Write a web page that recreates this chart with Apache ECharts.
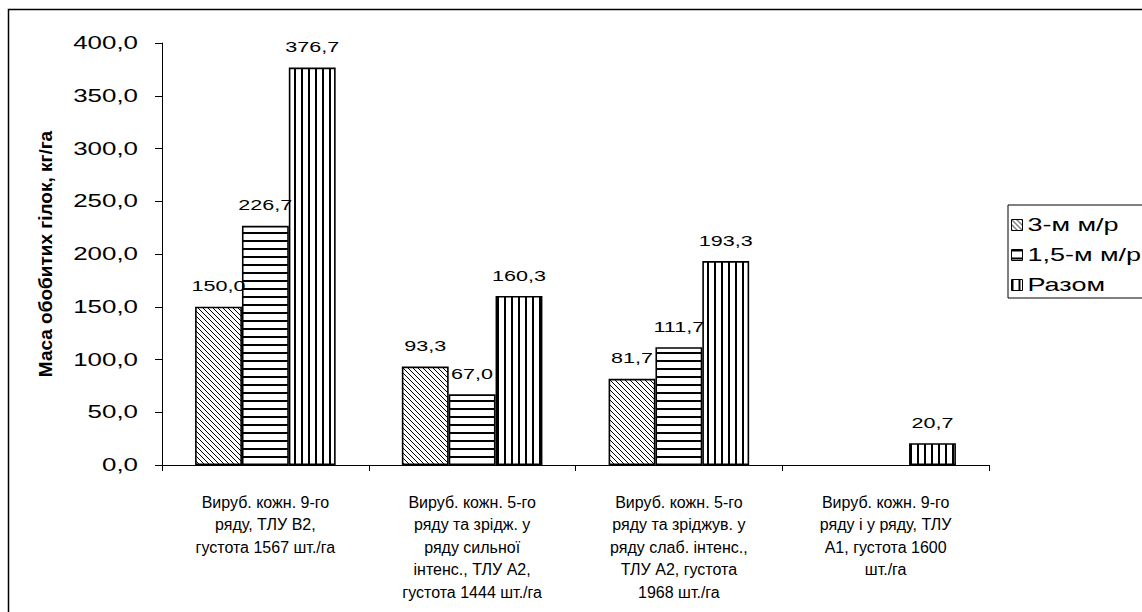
<!DOCTYPE html>
<html>
<head>
<meta charset="utf-8">
<script src="https://cdn.jsdelivr.net/npm/echarts@6/dist/echarts.min.js"></script>
<style>
html,body{margin:0;padding:0;background:#fff;}
#c{width:1142px;height:612px;}
</style>
</head>
<body>
<div id="c"></div>
<script>
var categories = [
  "Вируб. кожн. 9-го\nряду, ТЛУ В2,\nгустота 1567 шт./га",
  "Вируб. кожн. 5-го\nряду та зрідж. у\nряду сильної\nінтенс., ТЛУ А2,\nгустота 1444 шт./га",
  "Вируб. кожн. 5-го\nряду та зріджув. у\nряду слаб. інтенс.,\nТЛУ А2, густота\n1968 шт./га",
  "Вируб. кожн. 9-го\nряду і у ряду, ТЛУ\nА1, густота 1600\nшт./га"
];
var seriesNames = ["3-м м/р", "1,5-м м/р", "Разом"];
var s3m = [150.0, 93.3, 81.7, null];
var s15m = [226.7, 67.0, 111.7, null];
var sTotal = [376.7, 160.3, 193.3, 20.7];
var yTicks = [0, 50, 100, 150, 200, 250, 300, 350, 400];
var yAxisTitle = "Маса обобитих гілок, кг/га";

function fmt(v){ return Number(v).toFixed(1).replace('.', ','); }

function makePattern(kind){
  var c = document.createElement('canvas');
  var s = kind === 'diag' ? 5 : (kind === 'h' ? 8 : 7);
  c.width = s; c.height = s;
  var g = c.getContext('2d');
  g.fillStyle = '#fff'; g.fillRect(0,0,s,s);
  g.strokeStyle = '#000';
  if (kind === 'diag') {
    g.lineWidth = 1;
    for (var k = -1; k <= 1; k++) {
      g.beginPath(); g.moveTo(k*s, 0); g.lineTo(k*s + s, s); g.stroke();
    }
  } else if (kind === 'h') {
    g.fillStyle = '#000'; g.fillRect(0, 0, s, 2);
  } else {
    g.fillStyle = '#000'; g.fillRect(0, 0, 2, s);
  }
  return {image: c, repeat: 'repeat'};
}
var patterns = [makePattern('diag'), makePattern('h'), makePattern('v')];
var dataSets = [s3m, s15m, sTotal];

var font = '"Liberation Sans", Arial, sans-serif';

var series = dataSets.map(function(d, i){
  return {
    name: seriesNames[i],
    type: 'bar',
    data: d,
    barGap: '0%',
    barCategoryGap: '32%',
    itemStyle: {color: patterns[i], borderColor: '#000', borderWidth: 1.6},
    label: {
      show: true, position: 'top', distance: 13,
      fontFamily: font, fontSize: 14, color: '#000',
      formatter: function(p){ return p.value == null ? '' : fmt(p.value); }
    },
    emphasis: {disabled: true}
  };
});

var chart = echarts.init(document.getElementById('c'), null, {renderer: 'svg'});
chart.setOption({
  animation: false,
  backgroundColor: '#fff',
  grid: {left: 162, right: 153, top: 43, bottom: 147, containLabel: false},
  legend: {
    orient: 'vertical',
    left: 1008, top: 205,
    padding: [11, 42, 4, 3],
    itemGap: 12,
    itemWidth: 11, itemHeight: 11,
    borderColor: '#000', borderWidth: 1,
    selectedMode: false,
    textStyle: {fontFamily: font, fontSize: 18, color: '#000'},
    data: seriesNames.map(function(n, i){
      return {name: n, icon: 'rect', itemStyle: {color: patterns[i], borderColor: '#000', borderWidth: 1}};
    })
  },
  xAxis: {
    type: 'category',
    data: categories,
    axisLine: {lineStyle: {color: '#000', width: 1}},
    axisTick: {show: true, alignWithLabel: false, length: 6, lineStyle: {color: '#000'}},
    axisLabel: {
      interval: 0, margin: 26,
      fontFamily: font, fontSize: 16, color: '#000', lineHeight: 22.5, align: 'center'
    },
    splitLine: {show: false}
  },
  yAxis: {
    type: 'value',
    min: 0, max: 400, interval: 50,
    name: yAxisTitle,
    nameLocation: 'middle',
    nameGap: 107,
    nameTextStyle: {fontFamily: font, fontSize: 19, fontWeight: 'bold', color: '#000'},
    axisLine: {show: true, lineStyle: {color: '#000', width: 1}},
    axisTick: {show: true, length: 7, inside: false, lineStyle: {color: '#000'}},
    axisLabel: {
      margin: 24, fontFamily: font, fontSize: 18, color: '#000',
      formatter: function(v){ return yTicks.indexOf(v) >= 0 ? fmt(v) : ''; }
    },
    splitLine: {show: false}
  },
  graphic: [{
    type: 'rect', silent: true, z: -1,
    shape: {x: 8.5, y: 9.5, width: 1140, height: 620},
    style: {fill: null, stroke: '#000', lineWidth: 1.5}
  }],
  series: series
});

// Widen glyphs of texts that appear horizontally stretched in the reference
function stretchTexts(){
  var svg = document.querySelector('#c svg');
  if (!svg) return;
  var sr = svg.getBoundingClientRect();
  var texts = Array.prototype.slice.call(svg.querySelectorAll('text'));
  texts.forEach(function(t){
    if (t.parentNode && t.parentNode.getAttribute && t.parentNode.getAttribute('data-stretched')) return;
    var st = (t.getAttribute('style') || '') + ' ' + (t.getAttribute('font-size') || '');
    var txt = t.textContent;
    var k = 1;
    if (seriesNames.indexOf(txt) >= 0) k = 1.5;
    else if (/bold/.test(st)) k = 1;
    else if (/18px|18\b/.test(st)) k = 1.44;
    else if (/14px|14\b/.test(st)) k = 1.54;
    if (k === 1) return;
    var r = t.getBoundingClientRect();
    var anchor = t.getAttribute('text-anchor') || 'start';
    var ax = anchor === 'end' ? r.right : (anchor === 'middle' ? (r.left + r.right) / 2 : r.left);
    ax -= sr.left;
    var g = document.createElementNS('http://www.w3.org/2000/svg', 'g');
    g.setAttribute('data-stretched', '1');
    g.setAttribute('transform', 'translate(' + ax + ',0) scale(' + k + ',1) translate(' + (-ax) + ',0)');
    t.parentNode.insertBefore(g, t);
    g.appendChild(t);
  });
}
chart.getZr().flush();
stretchTexts();
</script>
</body>
</html>
